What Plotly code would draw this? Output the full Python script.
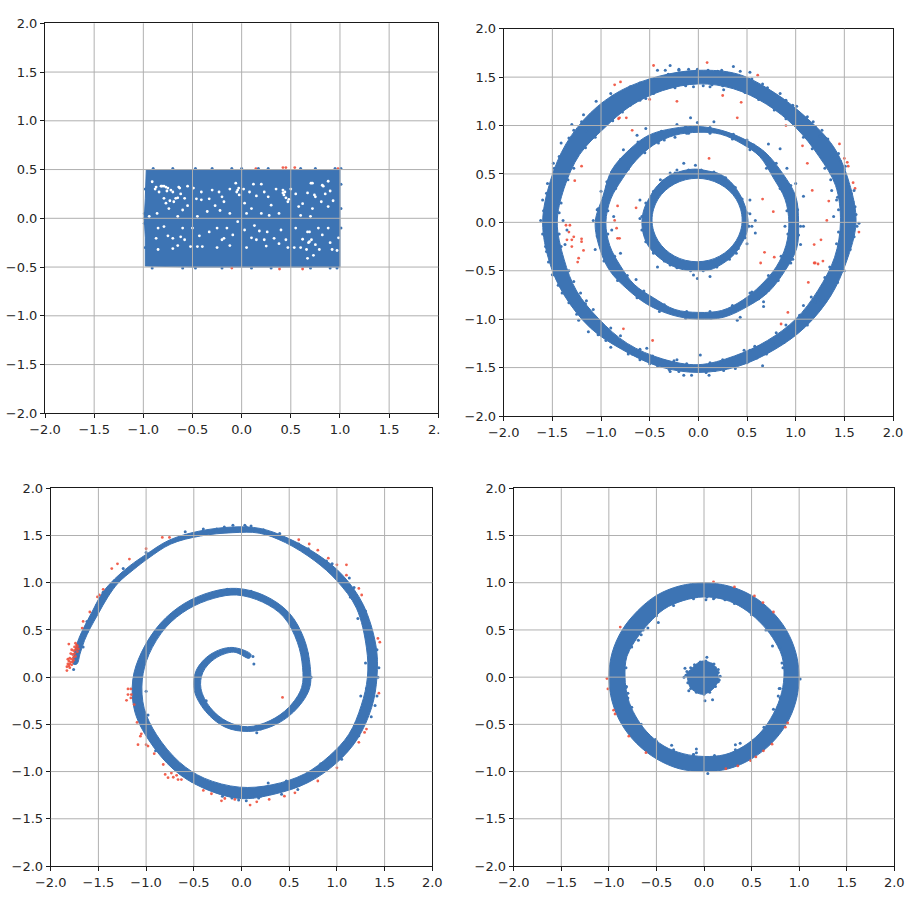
import plotly.graph_objects as go

TICKS = [-2.0, -1.5, -1.0, -0.5, 0.0, 0.5, 1.0, 1.5, 2.0]
BLUE = "#3d74b4"
RED = "#f0503c"

# ---------- panel 1 ----------
P1_BODY = [(-.98,-.49),(-.5,-.5),(0,-.5),(.5,-.5),(1.0,-.5),(1.0,0),(1.0,.5),(.5,.5),(0,.5),(-.5,.5),(-.97,.5),(-.98,.2),(-.99,0),(-.98,-.2)]
P1_BLUE = [(-.99,.0),(-.47,.51),(.0,.51),(.17,.51),(.27,.51),(1.01,.35),(1.01,.1),(-.91,-.51),(-.47,-.51),(-.2,-.51),(.1,-.51),(.9,-.51),(.97,-.51),(1.01,-.1),(-.9,.51),(-.7,.51),(.95,.51),(1.01,.51),(-.99,.05),(-.99,-.05),(-.98,.3),(-.98,-.3),(.6,.51),(.75,.51),(-.3,.51),(-.1,.51),(-.6,-.51),(.3,-.51),(.7,-.51)]
P1_RED = [(.145,.51),(.42,.52),(.45,.52),(.54,.52),(.98,.51),(-.10,-.51),(.385,-.52),(.62,-.52)]
P1_GAPS = [(-.82,.33),(-.79,.33),(-.75,.31),(-.70,.27),(-.64,.32),(-.67,.205),(-.77,.155),(-.74,.10),(-.60,.085),(-.58,.205),(-.84,.27),(-.87,.32),(-.91,.375),(-.41,.27),(-.23,.27),(-.04,.29),(-.06,.36),(-.025,.24),(-.18,.17),(-.35,.07),(-.79,.205),(-.69,.17),(-.04,-.035),(-.18,-.205),(-.09,-.17),(-.33,-.14),(-.45,-.29),(-.52,-.29),(-.70,-.31),(-.62,-.19),(-.70,-.205),(-.79,-.085),(-.60,-.10),(-.87,-.205),(-.40,-.29),
(.42,.26),(.42,.29),(.48,.195),(.705,.36),(.82,.34),(.74,.24),(.81,.17),(.67,.26),(.08,.27),(.20,.35),(.30,.135),(.03,.155),(.23,.27),(.38,.05),(.60,.03),(.13,-.075),(.18,-.13),(.26,-.14),(.33,-.205),(.38,-.26),(.25,-.285),(.67,-.14),(.82,-.17),(.69,-.24),(.62,-.215),(.79,-.32),(.67,-.41),(.55,-.10),(.535,-.30),(.985,-.20),(.97,-.33),
(-.81,.33),(-.77,.32),(-.72,.29),(-.65,.21),(-.63,.31),(.43,.24),(.44,.27),(.72,.36),(.83,.33),(.75,.22),(.68,-.25),(.71,-.22),(.69,-.14),(-.05,.27),(-.03,.31),(.47,.17),(.45,.21),(-.30,.29),(-.41,.19),(-.49,.31),(-.27,.13),(-.12,.05),(.10,.10),(.20,.05),(.50,.30),(.90,.28),(.88,.12),(-.15,-.10),(-.25,-.30),(-.50,-.10),(.05,-.30),(.15,-.22),(.45,-.22),(.90,-.25),(.78,-.10),(-.94,.02),(-.55,.33),(.15,.23),(.62,.15),
(-.88,.30),(-.76,.28),(-.62,.25),(-.73,.18),(-.55,.13),(-.46,.20),(-.33,.20),(-.20,.22),(-.12,.30),(.02,.30),(.12,.35),(.27,.22),(.35,.30),(.55,.25),(.58,.12),(.72,.10),(.85,.25),(.93,.18),(.88,.38),(-.86,.05),(-.65,.02),(-.45,.02),(-.22,.08),(.05,.05),(.28,.03),(.70,.02),(-.85,-.10),(-.75,-.18),(-.65,-.28),(-.85,-.32),(-.58,-.22),(-.43,-.18),(-.25,-.10),(-.20,-.22),(-.12,-.28),(.03,-.12),(.10,-.20),(.23,-.22),(.40,-.12),(.47,-.30),(.60,-.30),(.75,-.27),(.73,-.38),(.88,-.10),(.92,-.32),(.66,-.32)]

# ---------- panel 2 ----------
P2_OUTER_EDGE = [(1.62,0),(1.55,.41),(1.39,.78),(1.09,1.10),(.78,1.34),(.41,1.53),(0,1.57),(-.40,1.51),(-.80,1.36),(-1.11,1.13),(-1.36,.81),(-1.52,.43),(-1.60,0),(-1.53,-.41),(-1.38,-.75),(-1.11,-1.09),(-.79,-1.31),(-.40,-1.49),(0,-1.55),(.40,-1.49),(.79,-1.31),(1.10,-1.08),(1.36,-.76),(1.52,-.41)]
P2_OUTER_HOLE = [(1.46,0),(1.41,.38),(1.24,.68),(1.00,.98),(.70,1.22),(.36,1.38),(0,1.43),(-.37,1.36),(-.70,1.20),(-.97,.97),(-1.22,.70),(-1.38,.35),(-1.45,0),(-1.38,-.38),(-1.25,-.71),(-1.02,-1.00),(-.73,-1.25),(-.37,-1.41),(0,-1.47),(.37,-1.38),(.71,-1.22),(1.00,-1.00),(1.23,-.70),(1.40,-.36)]
P2_MID_EDGE = [(1.03,0),(1.00,.27),(.87,.50),(.68,.73),(.47,.86),(.24,.95),(0,.99),(-.26,.97),(-.51,.90),(-.71,.75),(-.89,.54),(-.98,.27),(-1.06,0),(-1.01,-.28),(-.91,-.50),(-.73,-.69),(-.52,-.85),(-.26,-.96),(0,-1.00),(.26,-.98),(.52,-.86),(.72,-.72),(.89,-.50),(1.01,-.27)]
P2_MID_HOLE = [(.93,0),(.89,.24),(.77,.46),(.63,.68),(.45,.81),(.23,.91),(0,.93),(-.24,.90),(-.46,.80),(-.64,.64),(-.78,.45),(-.90,.24),(-.95,0),(-.91,-.24),(-.80,-.45),(-.66,-.64),(-.46,-.78),(-.24,-.90),(0,-.93),(.24,-.91),(.46,-.80),(.64,-.65),(.80,-.46),(.90,-.24)]
P2_IN_EDGE = [(.51,.02),(.48,.17),(.42,.30),(.33,.42),(.22,.50),(.10,.53),(-.03,.55),(-.17,.53),(-.30,.48),(-.42,.38),(-.50,.26),(-.56,.13),(-.58,-.01),(-.56,-.14),(-.51,-.25),(-.41,-.36),(-.29,-.44),(-.15,-.49),(-.02,-.50),(.12,-.49),(.26,-.42),(.37,-.33),(.45,-.21),(.50,-.10)]
P2_IN_HOLE = [(.45,.024),(.434,.136),(.388,.24),(.314,.329),(.218,.397),(.107,.44),(-.013,.455),(-.133,.44),(-.244,.397),(-.34,.329),(-.414,.24),(-.46,.136),(-.476,.024),(-.46,-.088),(-.414,-.19),(-.34,-.28),(-.244,-.349),(-.133,-.392),(-.013,-.407),(.107,-.392),(.218,-.349),(.314,-.28),(.388,-.19),(.434,-.088)]
P2_BLUE = [(-.29,1.62),(-.42,1.57),(-.34,1.57),(-.2,1.58),(-.01,1.58),(.24,1.57),(.36,1.61),(.43,1.56),(.53,1.55),(-.13,1.41),(-.05,1.40),(.05,1.41),(.26,1.37),(.12,1.40),(-.54,1.28),(-.70,1.21),(-.9,1.33),(-1.05,1.25),(-1.18,1.11),(-.98,1.02),(-1.15,.94),(-1.30,1.01),(-1.41,.82),(-1.49,.61),(-1.55,.40),(-1.60,.23),(-1.62,.02),(-1.58,-.08),(-1.57,-.25),(-1.54,-.41),(-1.50,-.54),(-1.40,-.73),(-1.23,-1.01),(-1.13,-1.13),(-.90,-1.29),(-.68,-1.36),(-.42,-1.48),(-.29,-1.54),(-.15,-1.58),(-.07,-1.58),(.11,-1.58),(.26,-1.53),(.38,-1.51),(.66,-1.48),(.53,-1.32),(.62,-1.29),(.77,-1.25),(1.04,-.96),(1.12,-1.01),(1.25,-.80),(1.08,-.96),(1.20,-.82),(1.46,-.49),(1.41,-.41),(1.63,-.04),(1.65,-.01),(1.61,.16),(1.60,.33),(1.39,.06),(1.37,.33),(1.36,.51),(1.51,.58),(1.44,.71),(1.25,.89),(1.20,.99),(1.12,1.09),(1.01,1.20),(.84,1.33),(.71,1.39),(.59,1.42),(-1.35,-.08),(-1.39,.02),(-1.37,-.23),(-1.42,-.42),(-1.16,-.84),(-1.21,-.73),(-.97,-1.08),(-.53,-1.30),(-.22,-1.42),(.02,-1.37),(1.12,-1.06),(1.49,-.32),(1.42,.23),(1.37,.68),
(1.59,.21),(1.57,.30),(1.50,.55),(1.46,.63),(1.33,.86),(1.27,.95),(1.18,1.04),(.97,1.21),(.90,1.26),(.66,1.43),(.55,1.48),(.30,1.54),(.20,1.56),(.10,1.57),(-.10,1.58),(-.20,1.57),(-.31,1.53),(-.50,1.47),(-.60,1.44),(-.70,1.40),(-.88,1.30),(-.98,1.23),(-1.20,1.04),(-1.28,.95),(-1.33,.87),(-1.43,.68),(-1.48,.56),(-1.56,.30),(-1.59,.12),(-1.60,-.12),(-1.56,-.30),(-1.49,-.54),(-1.44,-.65),(-1.33,-.83),(-1.25,-.95),(-1.03,-1.16),(-.95,-1.22),(-.72,-1.36),(-.60,-1.42),(-.50,-1.46),(-.30,-1.52),(-.20,-1.54),(.08,-1.55),(.17,-1.53),(.30,-1.50),(.50,-1.45),(.60,-1.40),(.70,-1.36),(.88,-1.24),(.98,-1.16),(1.17,-.98),(1.25,-.89),(1.31,-.81),(1.43,-.62),(1.50,-.50),(1.56,-.28),(1.60,-.15),(1.62,.08),
(1.44,.13),(1.43,.26),(1.36,.44),(1.30,.56),(1.17,.76),(1.08,.88),(.90,1.07),(.78,1.16),(.62,1.27),(.48,1.34),(.25,1.41),(.14,1.42),(-.14,1.42),(-.24,1.39),(-.46,1.33),(-.60,1.26),(-.78,1.14),(-.88,1.05),(-1.06,.88),(-1.16,.77),(-1.28,.56),(-1.34,.44),(-1.41,.20),(-1.43,.10),(-1.43,-.12),(-1.41,-.25),(-1.33,-.50),(-1.28,-.61),(-1.15,-.81),(-1.08,-.90),(-.90,-1.09),(-.80,-1.17),(-.60,-1.31),(-.47,-1.38),(-.25,-1.43),(-.12,-1.46),(.12,-1.45),(.25,-1.42),(.47,-1.32),(.58,-1.28),(.80,-1.14),(.90,-1.06),(1.08,-.86),(1.16,-.77),(1.30,-.57),(1.35,-.46),(1.42,-.22),(1.44,-.10),
(-.08,1.08),(-.01,1.03),(.16,1.04),(-.22,1.01),(-.54,.97),(-.41,.82),(-.24,.88),(-.10,.92),(.50,.85),(.72,.81),(.84,.76),(.80,.61),(.91,.56),(1.0,.40),(1.08,.27),(1.05,-.04),(1.08,-.04),(.89,-.04),(1.05,-.23),(.95,-.42),(.81,-.56),(.72,-.70),(.69,-.73),(.67,-.82),(.67,-.87),(.50,-.80),(.53,-.73),(.43,-.98),(.40,-1.01),(-.64,-.59),(-.73,-.60),(-.80,-.32),(-.87,-.42),(-1.06,-.28),(-1.08,.02),(-1.04,.13),(-1.0,.32),(-.89,-.08),(-.87,.06),(-.94,.37),(-.89,.52),(-.77,.75),(-.63,.90),(-.84,.44),
(1.02,.13),(.95,.38),(.77,.61),(.57,.80),(.36,.91),(.12,.98),(-.13,.99),(-.38,.94),(-.62,.83),(-.80,.65),(-.94,.42),(-1.03,.14),(-1.04,-.14),(-.97,-.40),(-.83,-.60),(-.63,-.78),(-.40,-.92),(-.13,-.99),(.13,-.99),(.38,-.92),(.62,-.79),(.82,-.60),(.97,-.38),(1.03,-.13),
(.91,.12),(.84,.35),(.70,.56),(.53,.75),(.35,.86),(.12,.92),(-.12,.92),(-.35,.85),(-.55,.72),(-.72,.55),(-.85,.35),(-.93,.12),(-.93,-.12),(-.86,-.35),(-.73,-.55),(-.56,-.71),(-.35,-.85),(-.12,-.92),(.12,-.92),(.35,-.86),(.55,-.72),(.72,-.55),(.85,-.35),(.92,-.12),
(-.15,.61),(-.22,.54),(-.03,.59),(-.29,.51),(-.39,.44),(-.60,.23),(-.60,.04),(-.555,-.11),(.53,.23),(.53,.09),(.585,.02),(.55,-.04),(.585,-.11),(.50,-.22),(.39,-.32),(.12,-.56),(-.01,-.58),(-.05,-.545),(-.42,-.46),(-.29,-.44),(-.46,-.32),(.36,.37),(.26,.44),
(.50,.10),(.45,.24),(.38,.36),(.28,.46),(.16,.52),(.03,.54),(-.10,.54),(-.24,.51),(-.36,.43),(-.46,.32),(-.54,.20),(-.58,.06),(-.58,-.08),(-.54,-.20),(-.46,-.31),(-.35,-.40),(-.22,-.47),(-.08,-.50),(.05,-.50),(.19,-.46),(.32,-.38),(.41,-.27),(.48,-.16),(.52,-.04)]
P2_RED = [(-.46,1.62),(.09,1.65),(.61,1.52),(-.86,1.42),(-.80,1.45),(-.50,1.27),(-.22,1.25),(.25,1.31),(.44,1.24),(.40,1.08),(-.82,1.07),(-.81,1.08),(-.74,1.08),(-.68,.95),(.90,1.0),(1.07,.79),(1.12,.61),(1.45,.81),(1.50,.66),(1.53,.62),(1.54,.58),(.11,.66),(-1.20,.58),(-1.27,.43),(1.59,.41),(1.61,.35),(1.17,.33),(1.34,.22),(.66,.24),(.77,.11),(1.32,.02),(-.64,.15),(-.83,.17),(-.86,.02),(-.84,-.06),(-.83,-.165),(-.81,-.165),(-1.36,-.03),(-1.32,-.03),(-1.33,-.10),(-1.28,-.15),(-1.35,-.18),(-1.30,-.18),(-1.20,-.17),(-1.20,-.20),(-1.30,-.25),(-1.18,-.29),(-1.23,-.37),(-1.24,-.41),(1.65,-.10),(1.26,-.18),(1.19,-.23),(1.20,-.42),(1.19,-.42),(1.23,-.43),(1.28,-.40),(.68,-.31),(.78,-.36),(.64,-.42),(1.13,-.62),(.92,-.93),(.85,-1.05),(-.77,-1.10),(-.47,-1.22)]

# ---------- panel 3 ----------
P3_SPIRAL_OUT = [(.10,.24),(-.10,.315),(-.32,.245),(-.475,.07),(-.495,-.14),(-.375,-.365),(-.17,-.53),(.075,-.575),(.32,-.52),(.545,-.37),(.71,-.13),(.72,.115),(.655,.41),(.50,.68),(.24,.865),(-.05,.94),(-.31,.905),(-.60,.78),(-.85,.57),(-1.05,.26),(-1.14,-.03),(-1.12,-.36),(-.97,-.67),(-.71,-.98),(-.41,-1.17),(-.02,-1.285),(.34,-1.24),(.70,-1.115),(1.0,-.905),(1.215,-.655),(1.365,-.32),(1.42,0),(1.41,.33),(1.275,.77),(1.06,1.08),(.81,1.29),(.48,1.475),(.195,1.575),(-.09,1.59),(-.45,1.545),(-.76,1.45),(-1.0,1.30),(-1.17,1.18),(-1.33,1.04),(-1.46,.89),(-1.565,.695),(-1.65,.53),(-1.705,.41),(-1.75,.265),(-1.765,.14)]
P3_SPIRAL_IN = [(.08,.20),(-.08,.265),(-.28,.195),(-.405,.05),(-.425,-.12),(-.325,-.325),(-.15,-.47),(.065,-.525),(.30,-.46),(.495,-.32),(.63,-.11),(.64,.105),(.585,.37),(.44,.64),(.22,.795),(-.05,.87),(-.29,.835),(-.56,.72),(-.79,.53),(-.97,.24),(-1.04,-.03),(-1.02,-.33),(-.89,-.61),(-.65,-.90),(-.39,-1.07),(-.02,-1.165),(.32,-1.14),(.66,-1.025),(.92,-.835),(1.125,-.605),(1.255,-.30),(1.32,0),(1.31,.31),(1.205,.73),(1.0,1.02),(.77,1.23),(.46,1.425),(.185,1.525),(-.09,1.53),(-.43,1.495),(-.74,1.41),(-.975,1.26),(-1.13,1.14),(-1.29,1.00),(-1.40,.85),(-1.505,.665),(-1.59,.51),(-1.645,.39),(-1.69,.255),(-1.725,.14)]
P3_BLUE = [(.12,.22),(.13,.14),(-.37,-.25),(.16,-.59),(.28,-1.12),(.59,-1.19),(1.05,-.87),(1.31,-.415),(1.42,-.2),(1.43,0),(1.42,.29),(1.29,.64),(1.14,.85),(1.13,1.05),(-.09,1.61),(.035,1.61),(-.26,1.57),(-.40,1.57),(-.59,1.54),(.40,1.52),(.23,1.56),(-1.24,1.15),(-1.0,1.32),(-1.45,.90),(-1.52,.76),(-1.62,.59),(-1.76,.08),(1.38,.38),(1.44,.10),(1.40,-.30),(1.36,-.42),(1.23,-.62),(1.10,-.78),(.85,-.98),(.05,-1.31),(-.03,-1.30),(.18,-1.28),(.42,-1.24),(.05,1.59),(-.18,1.59),(.10,1.60),(.70,1.36),(.95,1.20),(1.18,.95),(1.30,.70),(1.32,.52),
(1.40,.10),(1.41,.20),(1.30,.15),(1.31,-.12),(1.38,-.20),(1.25,-.20),(1.31,.45),(1.36,.50),(1.22,.62),(1.28,.62),(1.17,.83),(1.11,.98),(.99,1.12),(.89,1.23),(.71,1.33),(.60,1.41),(1.35,-.25),(1.21,-.52),(1.27,-.47),(1.10,-.72),(1.18,-.68),(.90,-.94),(.83,-.92),(.62,-1.13),(.52,-1.17),(.47,-1.10),(.20,-1.26),(.12,-1.27),(-.10,-1.28),(-.20,-1.26),(-.30,-1.20),(-.52,-1.10),(-.62,-1.03),(-.80,-.87),(-.90,-.78),(-.95,-.60),(-1.04,-.52),(-1.10,-.20),(-1.13,-.12),(-.98,-.40),(-1.0,-.15),(-1.08,.10),(-1.03,.15),(-.96,.35),(-.70,.69),(-.90,.45),(-.45,.83),(-.15,.93),(.10,.91),(.35,.78),(.58,.53),(.69,.25),(.73,0),(.60,-.25),(.42,-.42),(.20,-.55),(-.05,-.55),(-.25,-.45),(-.41,-.25),(-.47,-.03),(-.40,.13),(-.20,.27),(-.02,.28),(-1.66,.32),(-1.62,.48),(-1.58,.62),(-1.47,.80),(-1.33,1.02),(-1.12,1.18),(-.88,1.36),(-.62,1.47),(-.30,1.55),(.30,1.52),(.65,1.37)]
P3_RED = [(-1.49,.87),(-1.51,.85),(-1.45,.93),(-1.59,.69),(-1.66,.59),(-1.67,.52),(-1.36,1.15),(-1.30,1.20),(-1.175,1.25),(-1.0,1.36),(-.83,1.48),(-.755,1.48),(.60,1.455),(.71,1.41),(.80,1.345),(.91,1.26),(1.10,1.19),(1.10,1.08),(1.0,1.19),(1.23,.94),(1.26,.87),(1.45,.37),(1.43,.41),(1.44,-.17),(1.31,-.55),(1.29,-.585),(1.23,-.69),(1.0,-.96),(.80,-1.10),(.56,-1.225),(.45,-1.26),(.29,-1.295),(.16,-1.32),(.09,-1.355),(-.07,-1.295),(-.175,-1.285),(-.21,-1.31),(-.315,-1.235),(-.40,-1.2),(.43,-.215),(-1.19,-.125),(-1.16,-.125),(-1.155,-.185),(-1.19,-.185),(-1.205,-.245),(-1.16,-.22),(-1.125,-.29),(-1.095,-.48),(-1.05,-.60),(-1.06,-.625),(-1.085,-.715),(-1.0,-.715),(-.98,-.73),(-.915,-.81),(-.82,-.925),(-.80,-1.03),(-.77,-1.065),(-.735,-1.015),(-.715,-1.06),(-.665,-1.085),(-.63,-1.085),(-.68,-1.04),
(-1.82,.14),(-1.81,.17),(-1.80,.10),(-1.83,.07),(-1.81,.12),(-1.79,.16),(-1.78,.13),(-1.80,.20),(-1.78,.19),(-1.76,.21),(-1.79,.25),(-1.77,.24),(-1.75,.25),(-1.78,.29),(-1.76,.28),(-1.74,.29),(-1.75,.32),(-1.73,.31),(-1.73,.34),(-1.72,.33),(-1.74,.36),(-1.81,.35),(-1.77,.16),(-1.80,.14),(-1.82,.19),(-1.83,.11),(-1.74,.22),(-1.72,.27),(-1.71,.30),(-1.76,.18)]

# ---------- panel 4 ----------
P4_RING_EDGE = [(1.0,0),(.965,.26),(.865,.50),(.705,.705),(.50,.865),(.26,.965),(0,1.0),(-.26,.965),(-.50,.865),(-.70,.70),(-.86,.50),(-.965,.26),(-1.0,0),(-.965,-.26),(-.865,-.50),(-.705,-.705),(-.50,-.865),(-.26,-.97),(0,-1.0),(.26,-.97),(.5,-.865),(.705,-.705),(.865,-.50),(.965,-.26)]
P4_RING_HOLE = [(.84,0),(.82,.22),(.72,.42),(.58,.59),(.41,.73),(.22,.82),(0,.85),(-.22,.81),(-.42,.72),(-.58,.57),(-.70,.42),(-.81,.22),(-.83,0),(-.80,-.22),(-.72,-.41),(-.60,-.58),(-.42,-.73),(-.22,-.81),(0,-.84),(.22,-.82),(.42,-.73),(.58,-.60),(.70,-.44),(.80,-.22)]
P4_BLOB = [(.15,0),(.14,.07),(.10,.13),(.05,.16),(-.02,.17),(-.08,.14),(-.13,.09),(-.18,.04),(-.17,-.03),(-.15,-.10),(-.10,-.15),(-.03,-.18),(.03,-.17),(.09,-.13),(.13,-.08),(.16,-.03)]
P4_BLUE = [(.82,.15),(.85,.15),(.79,-.12),(.78,-.20),(.80,-.22),(.03,.85),(.02,.82),(.10,.83),(.22,.82),(-.59,.52),(-.69,.39),(-.80,.27),(-.815,-.10),(-.80,-.17),(-.80,-.22),(-.34,-.72),(-.5,-.68),(-.08,-.76),(-.08,-.80),(-.11,-.82),(.33,-.715),(.38,-.70),(.03,.21),(.105,.14),(.15,.08),(.09,-.24),(.01,-.25),(-.20,.095),(-.21,0),(-.16,-.145),(.16,-.03),(.17,.01),(1.01,-.02),(.04,-1.02),(-.48,.58),(-.66,.45),(.68,.50),(.72,.33),(.80,.32),
(.83,.10),(.79,.32),(.65,.50),(.50,.66),(.32,.78),(.11,.84),(-.11,.83),(-.32,.76),(-.50,.65),(-.64,.50),(-.76,.32),(-.82,.10),(-.82,-.11),(-.76,-.32),(-.66,-.50),(-.51,-.66),(-.32,-.77),(-.11,-.82),(.11,-.83),(.33,-.77),(.52,-.67),(.63,-.53),(.73,-.34),(.80,-.12),
(-.14,.10),(-.18,.06),(-.19,.02),(-.17,-.06),(-.14,-.12),(-.08,-.16),(0,-.18),(.06,-.16),(.12,-.10),(.15,-.05),(.15,.05),(.12,.10),(.08,.14),(.02,.17),(-.04,.16),(-.10,.13)]
P4_RED = [(.10,1.01),(.32,.955),(.53,.86),(.62,.79),(.73,.69),(-.88,.53),(-1.02,-.015),(-1.01,-.125),(-.95,-.35),(-.935,-.39),(-.79,-.625),(-.61,-.80),(.23,-.97),(.355,-.94),(.49,-.885),(.545,-.845),(.625,-.78),(.715,-.71),(.855,-.53),(.88,-.485)]


def split(points):
    return [p[0] for p in points], [p[1] for p in points]


def band(*paths):
    xs, ys = [], []
    for path in paths:
        px, py = split(list(path) + [path[0]])
        xs += px + [None]
        ys += py + [None]
    return xs, ys


PANELS = [
    dict(box=(45, 438.3, 23.3, 413.3), curve="linear",
         shapes=[P1_BODY], blue=P1_BLUE, red=P1_RED, gaps=P1_GAPS),
    dict(box=(503.7, 893, 28.7, 416), curve="spline",
         shapes=[P2_OUTER_EDGE, P2_OUTER_HOLE[::-1], P2_MID_EDGE, P2_MID_HOLE[::-1], P2_IN_EDGE, P2_IN_HOLE[::-1]],
         blue=P2_BLUE, red=P2_RED, gaps=[]),
    dict(box=(50.7, 432.3, 488.3, 866), curve="spline",
         shapes=[P3_SPIRAL_OUT + P3_SPIRAL_IN[::-1]], blue=P3_BLUE, red=P3_RED, gaps=[]),
    dict(box=(513.7, 894.3, 488.3, 866), curve="spline",
         shapes=[P4_RING_EDGE, P4_RING_HOLE[::-1], P4_BLOB], blue=P4_BLUE, red=P4_RED, gaps=[]),
]

W, H = 914, 899
fig = go.Figure()
layout = dict(width=W, height=H, margin=dict(l=0, r=0, t=0, b=0), showlegend=False,
              paper_bgcolor="white", plot_bgcolor="white",
              font=dict(family="DejaVu Sans", size=13, color="#262626"))
shapes = []

for i, p in enumerate(PANELS, start=1):
    ax = "" if i == 1 else str(i)
    xa, ya = f"x{ax}", f"y{ax}"
    left, right, top, bottom = p["box"]
    common = dict(range=[-2, 2], tickmode="array", tickvals=TICKS, tickformat=".1f",
                  showgrid=False, zeroline=False, showline=True, mirror=True, automargin=False,
                  linecolor="#1a1a1a", linewidth=1, ticks="outside", ticklen=4,
                  tickwidth=1, tickcolor="#1a1a1a", layer="above traces")
    layout[f"xaxis{ax}"] = dict(domain=[left / W, right / W], anchor=ya, **common)
    layout[f"yaxis{ax}"] = dict(domain=[1 - bottom / H, 1 - top / H], anchor=xa, **common)

    bx, by = band(*p["shapes"])
    fig.add_trace(go.Scatter(x=bx, y=by, xaxis=xa, yaxis=ya, mode="lines", fill="toself",
                             fillcolor=BLUE, line=dict(color=BLUE, width=1, shape=p["curve"]), hoverinfo="skip"))
    if p["gaps"]:
        gx, gy = split(p["gaps"])
        fig.add_trace(go.Scatter(x=gx, y=gy, xaxis=xa, yaxis=ya, mode="markers",
                                 marker=dict(color="white", size=2.8), hoverinfo="skip"))
    rx, ry = split(p["red"])
    fig.add_trace(go.Scatter(x=rx, y=ry, xaxis=xa, yaxis=ya, mode="markers",
                             marker=dict(color=RED, size=2.8, opacity=0.9)))
    ux, uy = split(p["blue"])
    fig.add_trace(go.Scatter(x=ux, y=uy, xaxis=xa, yaxis=ya, mode="markers",
                             marker=dict(color=BLUE, size=3)))

    for t in TICKS[1:-1]:
        shapes.append(dict(type="line", layer="above", xref=xa, yref=f"{ya} domain", x0=t, x1=t, y0=0, y1=1,
                           line=dict(color="#b0b0b0", width=1)))
        shapes.append(dict(type="line", layer="above", xref=f"{xa} domain", yref=ya, x0=0, x1=1, y0=t, y1=t,
                           line=dict(color="#b0b0b0", width=1)))

# the reference's first picture is cut off through its last x tick label
shapes.append(dict(type="rect", layer="above", xref="paper", yref="paper",
                   x0=439.6 / W, x1=460 / W, y0=1 - 442 / H, y1=1 - 418 / H,
                   fillcolor="white", line=dict(width=0)))
layout["shapes"] = shapes
fig.update_layout(**layout)
fig.write_html("out.html", config={"displayModeBar": False},
               post_script="document.body.style.margin='0';document.body.style.overflow='hidden';")
